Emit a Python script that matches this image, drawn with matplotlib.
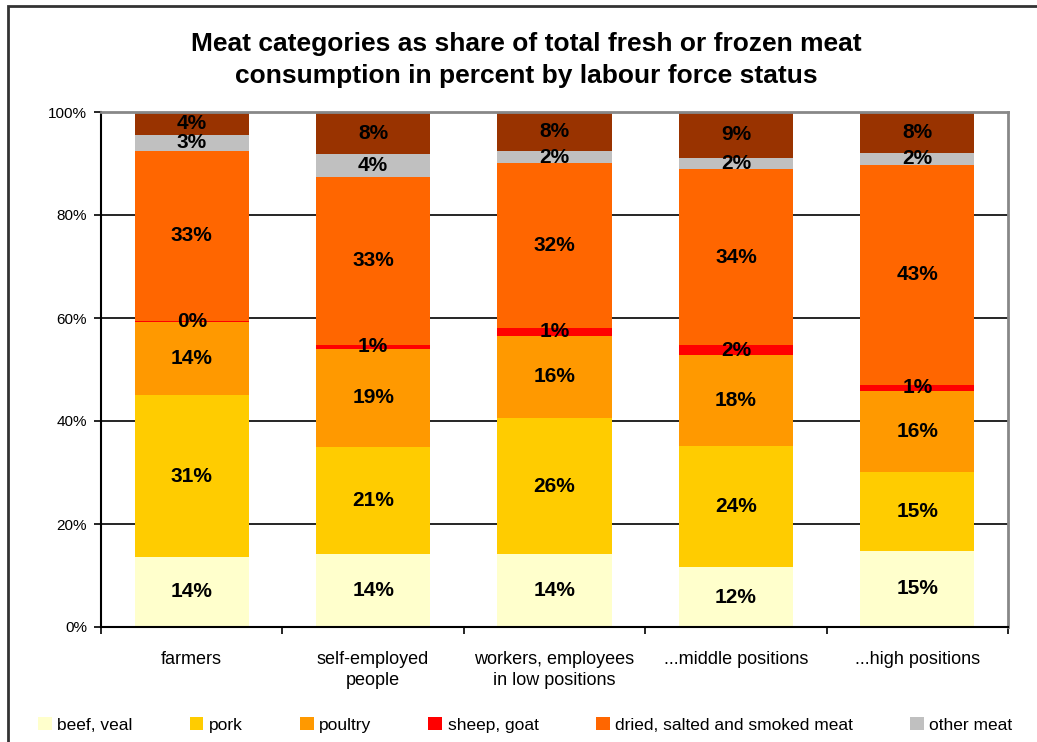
import numpy as np
import matplotlib
matplotlib.use("Agg")
import matplotlib.pyplot as plt
from matplotlib.patches import Rectangle

plt.rcParams['font.family'] = ['Liberation Sans', 'DejaVu Sans']

categories = ["farmers", "self-employed\npeople", "workers, employees\nin low positions",
              "...middle positions", "...high positions"]
series_names = ["beef, veal", "pork", "poultry", "sheep, goat",
                "dried, salted and smoked meat", "other meat", "other meat products"]
beef_veal = [13.6, 14.2, 14.2, 11.6, 14.8]
pork = [31.4, 20.8, 26.3, 23.6, 15.3]
poultry = [14.2, 19.0, 16.1, 17.6, 15.8]
sheep_goat = [0.2, 0.8, 1.4, 1.9, 1.1]
dried_salted_smoked = [33.1, 32.6, 32.1, 34.2, 42.8]
other_meat = [3.1, 4.4, 2.3, 2.2, 2.3]
other_products = [4.4, 8.2, 7.6, 8.9, 7.9]
y_ticks = [0, 20, 40, 60, 80, 100]
y_ticklabels = ["0%", "20%", "40%", "60%", "80%", "100%"]

series = [beef_veal, pork, poultry, sheep_goat, dried_salted_smoked, other_meat, other_products]
colors = ["#FFFFCC", "#FFCC00", "#FF9900", "#FF0000", "#FF6600", "#C0C0C0", "#993300"]

W, H = 1037, 742
fig = plt.figure(figsize=(W / 100, H / 100), dpi=100)
ax = fig.add_axes([101 / W, 1 - 627 / H, (1008 - 101) / W, (627 - 112) / H])

x = np.arange(len(categories))
bottom = np.zeros(len(categories))
handles = []
for name, vals, col in zip(series_names, series, colors):
    vals = np.array(vals)
    bars = ax.bar(x, vals, 0.63, bottom=bottom, color=col, edgecolor='none', zorder=2,
                  label=name)
    ax.bar_label(bars, labels=[f"{v:.0f}%" for v in vals], label_type='center',
                 fontsize=15, fontweight='bold', color='black', zorder=3)
    handles.append(bars)
    bottom += vals

ax.set_xlim(-0.5, len(categories) - 0.5)
ax.set_ylim(0, 100)
ax.set_yticks(y_ticks)
ax.set_yticklabels(y_ticklabels, fontsize=11)
ax.set_xticks(x)
ax.set_xticklabels(categories, fontsize=13, linespacing=1.3, va='top')
ax.tick_params(axis='x', which='major', length=0, pad=17)
ax.set_xticks(np.arange(-0.5, len(categories)), minor=True)
ax.tick_params(axis='x', which='minor', length=5, width=1.2, direction='out', color='black')
ax.tick_params(axis='y', length=5, width=1.2, direction='out', pad=5, color='black')

ax.yaxis.grid(True, color='black', linewidth=1.2, zorder=1)
ax.set_axisbelow(True)
for s in ['left', 'bottom']:
    ax.spines[s].set_color('black')
    ax.spines[s].set_linewidth(1.5)
for s in ['top', 'right']:
    ax.spines[s].set_color('#888888')
    ax.spines[s].set_linewidth(2)

fig.text(526 / W, 1 - 60 / H,
         "Meat categories as share of total fresh or frozen meat\nconsumption in percent by labour force status",
         ha='center', va='center', fontsize=19, fontweight='bold', linespacing=1.38)

leg = fig.legend(handles[:6], series_names[:6], loc='center', bbox_to_anchor=(525 / W, 1 - 725 / H),
                 ncol=6, frameon=False, fontsize=12.5, handlelength=0.8, handleheight=0.8,
                 handletextpad=0.3, columnspacing=3.3, borderaxespad=0)

fig.patches.append(Rectangle((8 / W, -0.05), 1.2, 1.05 - 6 / H, transform=fig.transFigure,
                             fill=False, edgecolor='#333333', linewidth=2, clip_on=False))

fig.savefig("out.png", dpi=100)
